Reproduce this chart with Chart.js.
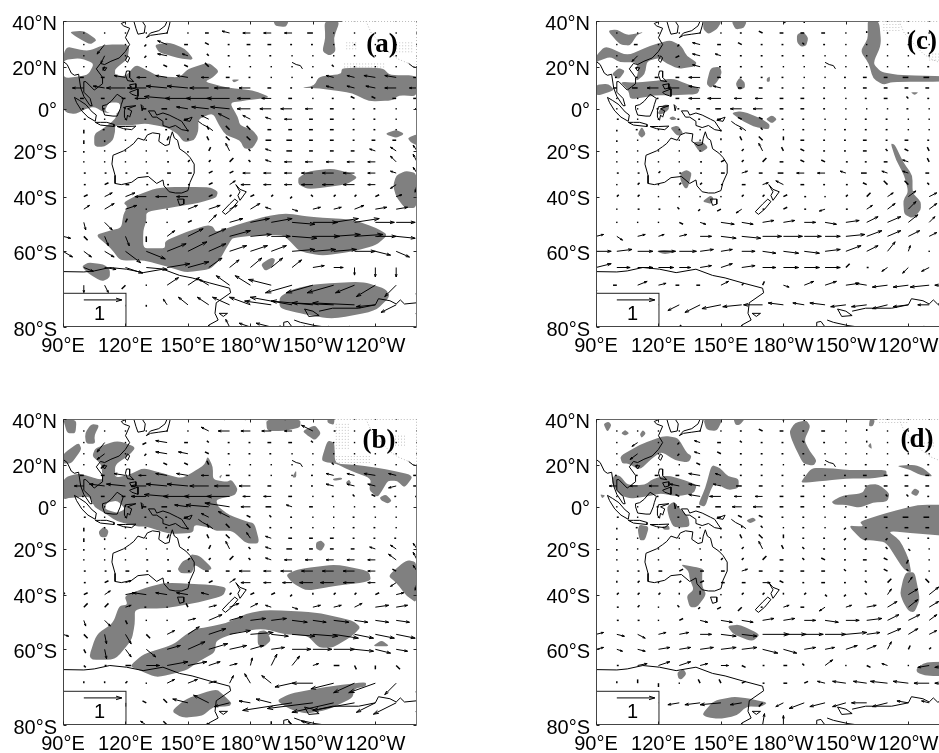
<!DOCTYPE html>
<html>
<head>
<meta charset="utf-8">
<title>Wind anomalies</title>
<script src="https://cdn.jsdelivr.net/npm/chart.js@4/dist/chart.umd.min.js"></script>
<style>
html, body { margin: 0; padding: 0; background: #fff; overflow: hidden; width: 939px; height: 753px; }
canvas { position: absolute; }
</style>
</head>
<body>
<canvas id="panelA" width="440" height="375" style="left:0px;top:0px"></canvas>
<canvas id="panelB" width="440" height="355" style="left:0px;top:398px"></canvas>
<canvas id="panelC" width="440" height="375" style="left:533px;top:0px"></canvas>
<canvas id="panelD" width="440" height="355" style="left:533px;top:398px"></canvas>
<script>
const lonTicks = [90, 120, 150, 180, 210, 240];
const lonLabels = ["90°E", "120°E", "150°E", "180°W", "150°W", "120°W"];
const latTicks = [40, 20, 0, -20, -40, -60, -80];
const latLabels = ["40°N", "20°N", "0°", "20°S", "40°S", "60°S", "80°S"];

// wind grid, vectors in tenths of the key arrow
const gridLons = [90,100,110,120,130,140,150,160,170,180,190,200,210,220,230,240,250,260];
const gridLats = [40,35,30,25,20,15,10,5,0,-5,-10,-15,-20,-25,-30,-35,-40,-45,-50,-55,-60,-65,-70,-75,-80];

const uA = [
[0,0,0,0,0,0,0,0,-1,-1,-1.5,-1.5,0,.5,0,0,0,0],
[0,0,0,0,0,0,0,-1,-2,-2,-2,-2,-1.5,0,0,0,0,0],
[0,0,-2,0,-.5,-2.5,-1,-1,-.5,-1,-1,-.5,-.5,0,0,0,0,0],
[0,0,-1,0,-.5,-2.5,-1.5,-.5,-.5,-.5,-.5,0,0,0,0,0,0,0],
[0,0,-.5,0,0,-1,-1,-1,0,0,0,0,0,-.5,0,0,0,0],
[0,-1,-1,-3,-2.5,-3,-3,-2,-1,-.5,0,0,-.5,-2,-2,-3,-3,-1],
[-3,-3,-3,-5,-5,-5.5,-5.5,-5,-4,-3,-1,-.5,-.5,-2,-2,-2.5,-3,-2],
[0,-1,-1,-1,-3,-6,-6,-6,-6,-3.5,-2.5,-1,0,-.5,-1,-1,-1,-1],
[0,-.5,-.5,-.5,-1,-1.5,-3,-4.5,-5,-3.5,-3,-3,-2,-1,-.5,-.5,0,-.5],
[0,.5,0,0,-.5,-.5,-1,-2,-3,-2,-1.5,-2,-1,-1,-.5,-.5,0,0],
[0,0,-.5,0,-.5,-.5,0,-.5,-1,-1,-1,-1,-1,-1,-.5,-.5,0,0],
[0,0,0,0,0,.5,0,-.5,-1,-1,-1.5,-1.5,-1,-1,-.5,-1,-1,0],
[0,0,0,0,0,0,0,.5,-1,-.5,-1.5,-1.5,-1,-1,-1,-1.5,-1.5,-1],
[0,0,0,0,0,.5,.5,.5,1,-.5,-1.5,-2,-2,-2,-2,-2,-1.5,-1],
[0,.5,.5,.5,.5,1,1,1,1,-2,-2,-2,-3,-3,-3,-2,-1.5,-1],
[0,.5,1,1,.5,.5,.5,1,1.5,-2.5,-2,-2,-3,-3,-3,-2,-1.5,-.5],
[0,1,2,2.5,-3,-3,-3,1,.5,1,.5,-.5,-.5,.5,.5,1,1.5,.5],
[0,1.5,2.5,3,0,0,2.5,3,2,2.5,-1.5,1.5,2,2,2.5,3,3,2],
[0,.5,2,.5,0,0,1,2,3.5,5,5.5,6,6.5,6.5,6.5,5,5,0],
[2,1,1,1,0,2,4,4.5,5.5,5.5,5,6.5,7,7,7.5,5.5,5,0],
[2.5,2,2.5,4,5,5,5,4.5,4.5,4.5,4,6,6,6,5.5,4,3.5,0],
[0,2.5,3,4.5,5.5,6,5.5,3.5,2.5,3,3,2.5,3,2.5,0,0,0,.5],
[0,0,1,-1,0,3,3,-2.5,-3.5,-4,-6,-7,-7,-7,-5,-5,-3,0],
[0,0,0,-1,0,-1,-2.5,-3,-4.5,-5.5,-7,-11,-11,-11,-11,-5,-4,0],
[0,0,0,0,0,-1,-1,0,-1,-3,-4,-4,-3,-2,-2,-1,0,0]];
const vA = [
[0,0,0,0,0,0,0,0,0,0,0,0,.5,0,0,0,0,0],
[0,0,0,0,0,0,0,0,.5,0,0,0,0,0,0,0,0,0],
[0,0,-2.5,0,-.5,1,0,.5,0,0,0,0,0,0,0,0,0,0],
[0,0,-2,0,-.5,.5,.5,.5,0,0,0,0,0,0,0,0,0,0],
[0,0,-1,0,0,.5,.5,1,0,0,0,0,0,.5,0,0,0,0],
[0,0,0,.5,0,.5,.5,0,0,0,0,0,0,.5,.5,.5,.5,0],
[0,0,.5,0,0,.5,.5,0,0,0,0,0,0,.5,.5,.5,0,0],
[0,0,0,0,0,.5,0,0,0,0,0,0,0,0,.5,.5,0,0],
[0,0,0,.5,0,0,.5,.5,.5,0,0,0,0,0,0,0,0,0],
[0,0,0,0,0,0,0,1,1.5,1,.5,0,0,0,0,0,0,0],
[0,-1,0,0,0,0,-.5,1,1,1,0,0,0,0,0,0,0,0],
[0,-1,-.5,0,0,1,.5,1,1,1,0,0,0,0,0,0,0,0],
[0,-.5,0,0,0,0,-.5,1,2,.5,.5,0,0,0,0,.5,1,1.5],
[0,0,0,0,0,0,.5,.5,1,.5,.5,0,0,0,0,0,1.5,2],
[0,0,0,0,0,0,0,.5,.5,0,0,0,0,0,0,0,.5,1.5],
[0,0,.5,0,0,0,0,.5,1,0,0,0,0,0,0,0,-1,-2],
[0,.5,1,1,0,0,0,.5,.5,.5,.5,-.5,.5,.5,.5,.5,.5,-1],
[.5,1,1.5,1,0,0,1,1,1,1.5,.5,-.5,.5,.5,1,.5,.5,1],
[-1,-2,-2,1,0,0,.5,2,1,1,1,-.5,0,1,1,0,0,0],
[-.5,-1,-2.5,-2.5,-1.5,1.5,2,2,1.5,.5,0,-.5,0,.5,.5,0,-.5,0],
[-1.5,-1.5,-1.5,-3,-2,2,2.5,2,1.5,1.5,1.5,.5,.5,.5,0,-1,-1.5,0],
[0,-1,-.5,-1.5,-.5,1,1.5,2.5,2,2.5,2.5,2,.5,0,-2,-2.5,-2.5,2],
[0,-2,-2,-1,0,2,2,1.5,2.5,2.5,1.5,-2,-2,-2,-2,-3,-3,-3],
[0,0,-2,-2.5,-.5,1.5,2,2,2,2,1,2,1,.5,.5,-.5,-2,-3],
[0,0,0,0,0,0,0,0,2,1,1,0,0,0,0,0,0,0]];

const uB = [
[0,0,0,0,0,0,0,0,-2,-2,-2,-2.5,0,0,0,0,0,0],
[0,0,0,0,0,0,0,-2,-3,-2.5,-2.5,-2,-3,.5,0,0,0,0],
[0,0,-2,0,-1,-3,-1,-.5,-.5,-.5,-1,-1,-.5,0,0,0,0,0],
[0,0,-2,0,-.5,-3,-2.5,-1,-.5,-.5,-.5,0,0,0,0,0,0,0],
[0,0,-1,0,0,-1,-1,-.5,0,0,0,0,0,-.5,0,0,0,0],
[0,-1,-1,-3,-2,-3,-3,-2,-1,-.5,0,0,-.5,-2,-2,-3,-2,-1],
[-2,-2.5,-4,-5,-4,-5.5,-5.5,-5,-4,-3,-1,-.5,-.5,-2,-2,-2,-2,-1],
[0,-.5,-1,-1,-4,-6,-6.5,-6.5,-6,-2,-2,-1,0,-.5,-.5,-1,-.5,-.5],
[0,0,0,0,-1,-1.5,-3.5,-6,-6.5,-2.5,-1.5,-1.5,-1,0,0,-.5,0,.5],
[0,.5,0,0,-.5,-.5,-1,-2,-3,-1,-.5,-.5,0,0,-.5,0,0,0],
[0,0,0,0,-.5,-.5,0,-.5,-1,-1,-.5,-.5,0,0,-.5,-.5,0,0],
[0,0,0,0,0,.5,.5,-.5,-1,-1,-1.5,-1,-1,-1,-.5,-.5,-.5,0],
[0,0,0,0,0,0,0,.5,-1,-.5,-1.5,-1.5,-1,-1,-1,-1.5,-1.5,-1],
[0,0,0,0,.5,.5,.5,.5,1,-.5,-1.5,-2,-2,-2,-2,-2,-2,-1],
[0,.5,.5,1,.5,1,.5,-1,-1,-3,-2,-3,-3,-3,-3,-2,-1,-1],
[0,.5,1,1.5,.5,.5,.5,1,1.5,-2.5,-2,-2.5,-3.5,-3.5,-3,-2,-1.5,-.5],
[.5,1,1.5,2.5,-3.5,-3,-3,-2,.5,1,1,-.5,0,.5,.5,1,2,.5],
[0,1,1,1.5,-.5,0,-.5,2,2.5,2,-1.5,1.5,2,2,2,3.5,3,2],
[0,.5,1.5,.5,0,0,2,3.5,3.5,4,4,4,3.5,4,3.5,3.5,3.5,0],
[1.5,1,.5,1.5,1,2,3,4.5,5.5,6,4.5,6,6.5,6.5,5,5,5,3],
[0,.5,.5,1.5,2.5,3.5,4.5,5,4.5,3.5,3.5,5,5,5.5,5,4,3,0],
[0,.5,.5,1.5,3.5,5.5,5,3,2,.5,1.5,2,1.5,1.5,.5,0,1,1.5],
[0,0,0,.5,0,2,2.5,2,1,-1.5,-2.5,-4.5,-5.5,-6,-5.5,-7,-3,0],
[0,0,0,0,-1,-1,-4,-4,-4,-3,-4,-13,-12,-11,-11,-5,-6,0],
[0,0,0,0,-1.5,-1,-1,-.5,2,2,0,-1,-3,0,0,0,0,0]];
const vB = [
[0,0,0,0,0,0,0,0,0,0,0,0,0,0,0,0,0,0],
[0,0,0,0,0,0,0,1,0,0,0,0,1.5,0,0,0,0,0],
[0,0,-2.5,0,-.5,.5,0,.5,0,0,0,0,.5,0,0,0,0,0],
[0,0,-1.5,0,-.5,.5,.5,.5,0,0,0,0,0,0,0,0,0,0],
[0,0,-1,0,0,.5,.5,1,0,0,0,0,0,.5,0,0,0,0],
[0,0,0,.5,0,.5,.5,0,0,0,0,0,0,.5,.5,.5,.5,0],
[0,0,.5,.5,0,.5,.5,0,0,0,0,0,0,.5,.5,.5,-.5,0],
[0,0,0,0,0,.5,0,0,0,0,0,0,0,0,.5,.5,0,0],
[0,0,0,.5,0,0,.5,.5,1,0,0,.5,0,0,0,0,0,0],
[0,0,0,0,0,0,0,1,1.5,.5,.5,0,0,0,0,0,0,0],
[0,-1,0,0,0,0,-.5,1,1,1,0,0,0,0,0,0,0,0],
[0,-1,-.5,0,0,1,.5,1,1,1.5,.5,0,0,0,0,0,0,0],
[0,-.5,0,0,0,0,-.5,1,2,.5,.5,0,0,0,0,.5,1,1.5],
[0,0,0,0,0,0,.5,.5,1,.5,.5,0,0,0,0,0,1.5,2],
[0,0,0,0,0,0,0,0,0,0,0,0,0,0,0,0,.5,1.5],
[0,0,.5,.5,0,0,0,.5,1,0,0,0,0,0,0,0,-1,-2],
[.5,.5,1,.5,.5,.5,.5,.5,.5,.5,.5,-.5,.5,.5,.5,.5,.5,-1],
[0,1,1,.5,0,0,1,.5,1,1,.5,-.5,.5,.5,1,.5,.5,1],
[-1,-1.5,-1.5,-1,0,0,.5,1.5,1,.5,.5,-.5,-.5,-.5,-.5,-.5,-.5,0],
[-.5,-1,-2.5,-2.5,-1,1,2,1.5,1,.5,-.5,-.5,-.5,-1,-1,-1,-1,.5],
[-1,-1,-2.5,-2,-2,1,2,1.5,1,1,.5,0,0,0,-.5,-1,-.5,.5],
[0,-.5,0,0,0,1,1,1,.5,2,3,2.5,.5,0,-1,-1,-1,2],
[0,.5,.5,.5,0,1,1,.5,2,2.5,2,-1,0,-1.5,-2.5,-2.5,-3,-3],
[0,0,-1,-1,.5,1,1,2,-1,.5,1,-2,-1.5,-2.5,-2,-2.5,-3,-3],
[0,0,0,0,1,1,0,.5,-3,-4,1,1,1,0,0,0,0,0]];

const uC = [
[0,0,0,0,0,0,0,0,0,.5,0,-.5,0,0,0,0,0,0],
[0,0,0,0,0,0,0,-.5,-1,-1,-1,-1,0,0,0,0,0,0],
[0,0,-1,0,-.5,-2,-1,-1,-.5,-.5,-.5,-.5,0,0,0,0,0,0],
[0,0,-1.5,0,-1,-2,-1.5,-.5,-.5,-.5,-.5,0,0,0,0,0,0,0],
[0,0,-.5,0,0,-2,-.5,-.5,-.5,0,0,0,0,0,0,0,-.5,-.5],
[0,-.5,-.5,-1,-1,-3,-1,-.5,-.5,-.5,0,0,-.5,-1,-1,-1.5,-1.5,-1],
[-1,-1,-1.5,-3,-3,-3,-2,-1,-1,-.5,-.5,-.5,-.5,-1,-1,-1,-1,-1],
[0,0,0,-.5,-1,-3,-3.5,-2,-2,-1,-1,-.5,0,-.5,-1,-.5,-.5,-.5],
[0,0,0,-.5,-.5,-1,-1.5,-3,-2.5,-1,-1,-.5,0,0,0,-.5,0,0],
[0,.5,0,0,-.5,-.5,-1,-1,-1,-.5,-.5,0,0,-.5,-.5,0,0,0],
[0,0,-.5,0,0,0,0,-.5,-.5,0,-.5,0,-.5,-.5,-.5,0,0,0],
[0,0,0,0,0,0,0,-.5,-1,0,-1,-.5,-.5,-1,-.5,-1,-.5,0],
[0,0,0,0,0,0,0,.5,-1,-.5,-1,-.5,-.5,-1,-.5,-1,-.5,-.5],
[0,0,0,0,0,.5,1,.5,1,-1,-1,-1,.5,-.5,-1,-1.5,-.5,.5],
[0,.5,.5,.5,.5,.5,1,1.5,-1,-1.5,-2,-2,-1.5,-1.5,-1.5,-1.5,-1,-1],
[0,0,.5,0,.5,.5,.5,1,1.5,-2,-1,-.5,.5,-1,-1,-1,-.5,-.5],
[0,.5,.5,0,0,0,0,.5,.5,1,.5,0,.5,1,1.5,2,2,2],
[0,0,.5,.5,-.5,-.5,-1,-1.5,.5,1,.5,-1.5,.5,1.5,2,2,2,2],
[0,0,0,0,1,1.5,3.5,3,3,3,3,3,3.5,3,3.5,2.5,1.5,1],
[2,1.5,2,1.5,2,3,4,5,5,5,4.5,4,5,4,3.5,3,2,2],
[4,4,4,4.5,4.5,3.5,3,3.5,3.5,4,4,4,4,3,2,.5,0,0],
[4,3.5,4,4,3,3,3,3.5,3.5,4,4,4,1,.5,-1.5,-1.5,-2,-2],
[0,-1,2.5,2,-1,-1,2,.5,.5,1.5,2.5,3,3.5,-3,-4,-4,-5,-4],
[0,0,-2.5,-2,-3,-4,-5,-5,-5,-4,-3,-4,-4,-4,-4,-4,-3,-3],
[0,0,0,0,.5,.5,.5,.5,-.5,.5,.5,.5,.5,.5,-1,-1,-2,-2]];
const vC = [
[0,0,0,0,0,0,0,0,0,-.5,-.5,0,.5,0,0,0,0,0],
[0,0,0,0,0,0,0,0,.5,0,0,0,0,.5,0,0,0,0],
[0,0,0,0,-.5,.5,0,.5,0,0,.5,0,0,0,0,0,0,0],
[0,0,-1.5,0,-.5,.5,.5,0,0,0,0,0,0,0,0,0,0,0],
[0,0,-.5,0,0,.5,0,0,0,0,0,0,0,0,0,0,0,0],
[0,0,0,0,0,0,0,0,0,0,0,0,0,0,0,0,0,0],
[0,0,0,0,0,.5,.5,0,0,0,0,0,0,0,0,0,0,0],
[0,0,0,0,0,0,0,0,0,0,0,0,0,0,0,.5,0,0],
[0,0,0,0,0,0,0,0,0,0,0,0,0,0,0,0,0,0],
[0,0,0,0,0,0,0,.5,.5,0,0,0,0,0,0,0,0,0],
[0,-.5,0,0,0,0,-.5,.5,.5,0,0,0,0,0,0,0,0,0],
[0,-.5,0,0,0,0,.5,1,1,1,0,0,0,0,0,0,0,-.5],
[0,-.5,0,0,0,0,-.5,.5,2,1,.5,0,0,0,.5,.5,1,0],
[0,0,0,0,0,0,.5,.5,1,0,.5,.5,0,0,0,.5,1,1],
[0,0,0,.5,0,0,0,.5,0,0,0,0,.5,0,.5,.5,0,.5],
[0,0,.5,0,.5,.5,0,0,.5,1,0,0,0,.5,1,1,.5,0],
[0,.5,.5,0,0,0,0,.5,.5,.5,0,0,.5,1,1,1.5,1,1],
[0,0,0,0,.5,-.5,-.5,-1,0,.5,0,-.5,0,1,1.5,2,1.5,1.5],
[0,0,0,0,-.5,-.5,-.5,-.5,.5,.5,0,-.5,.5,1.5,1.5,2,1.5,1],
[.5,-1,.5,.5,.5,0,-.5,-.5,0,0,0,0,.5,1.5,1.5,1.5,1,.5],
[0,.5,0,0,0,.5,.5,0,-.5,-.5,-.5,.5,1.5,1.5,2.5,1.5,0,0],
[1,0,0,0,0,.5,1,.5,0,0,0,0,1,0,-1,-1.5,-1,-1],
[-2,0,1,.5,0,0,1,.5,1,-.5,1,1,.5,.5,-.5,-.5,-.5,0],
[0,0,-.5,-1,-1.5,-2,-1,-.5,0,.5,.5,.5,-.5,-.5,-1,-.5,0,0],
[0,0,0,0,.5,-.5,0,-.5,-.5,-.5,0,-.5,0,-.5,-.5,-.5,0,0]];

const uD = [
[0,0,0,0,0,0,0,0,0,0,0,-.5,0,0,0,0,0,0],
[0,0,0,0,0,0,0,-.5,-1,-1,-.5,-1,0,0,0,0,0,0],
[0,0,-1.5,0,-.5,-1.5,-1,-.5,-.5,-.5,-.5,-.5,0,0,0,0,0,0],
[0,0,-2,0,-.5,-1.5,-1,-.5,-.5,-.5,-.5,0,0,0,0,0,0,0],
[0,0,-.5,0,0,-1,-.5,-.5,-.5,0,0,0,0,-.5,0,0,-.5,-.5],
[0,-.5,-.5,-1,-1,-3,-1.5,-.5,-.5,-.5,0,0,-.5,-1,-1,-1,-1,-1],
[-.5,-2,-2,-2.5,-2.5,-3,-2,-1.5,-1,-.5,-.5,-.5,-.5,-.5,-1,-1,-1,-1],
[0,0,0,-.5,-1,-3,-3,-2,-2,-1,-1,-.5,0,-.5,-.5,-.5,-.5,-.5],
[0,0,0,-.5,-.5,-1,-1.5,-2.5,-2.5,-1,-1,-.5,0,0,0,0,0,0],
[0,.5,0,0,-.5,-.5,-1,-1,-1,-.5,-.5,0,-.5,-.5,-1,-1.5,-1.5,-1],
[0,0,-.5,0,0,0,0,0,-.5,0,-.5,0,-.5,-.5,-.5,-1,-1,-1],
[0,0,0,0,0,0,0,-.5,-1,0,-.5,-.5,-.5,-.5,-.5,0,-.5,0],
[0,0,0,0,0,0,0,.5,-1,-.5,-.5,-.5,-.5,-.5,-.5,.5,0,0],
[0,0,0,0,.5,.5,.5,.5,1,-1,-.5,-1,-.5,-1,-1,-.5,0,-.5],
[0,.5,.5,1,1,1,1,1.5,-1,-1,-1,-1,-.5,-.5,-1,-.5,0,0],
[0,0,.5,0,.5,1,1,1,2,-1,-.5,-1,-.5,-.5,1,1,-1,1],
[0,.5,.5,.5,0,0,0,.5,.5,0,.5,.5,-.5,-.5,1,2.5,2.5,2],
[0,.5,.5,0,-.5,-.5,-1,-1,-.5,1.5,-1,-1.5,1.5,2.5,2.5,2.5,2.5,2],
[0,.5,.5,0,1,2,3,3,3,3,3,3.5,3.5,4,3,3,2,1],
[2,2,2,2,2.5,3,4,4,7,6,5,5.5,5.5,3.5,3.5,2.5,2,2],
[2,1.5,2,3,3,3.5,4,4,4,3.5,3,2.5,3,2.5,1,.5,.5,0],
[0,.5,2.5,3,3,2,2,1,.5,1,-.5,2,0,1,-1.5,0,-3,-4],
[0,0,0,0,0,-.5,-.5,1,.5,1,1,-2,-3.5,-3.5,-4.5,-4,-4,-4],
[0,0,-1,-1.5,-3,-4,-5.5,-3,-1,-2,-4,-4,-3.5,-4,-4,-3,-2,-2],
[0,0,0,0,0,0,.5,.5,.5,0,0,0,0,0,0,0,0,0]];
const vD = [
[0,0,0,0,0,0,0,0,0,-.5,-.5,0,.5,0,0,0,0,0],
[0,0,0,0,0,0,0,0,.5,0,0,0,0,.5,0,0,0,0],
[0,0,-1,0,-.5,.5,0,.5,0,0,.5,0,0,.5,0,0,0,0],
[0,0,-1.5,0,-.5,.5,.5,0,0,0,0,0,0,0,0,0,0,0],
[0,0,-.5,0,0,.5,0,0,0,0,0,0,0,0,0,0,0,0],
[0,0,0,0,0,.5,.5,0,0,0,0,0,0,0,0,0,0,0],
[0,0,0,0,.5,.5,.5,0,0,0,0,0,0,0,0,0,0,0],
[0,0,0,0,.5,.5,0,0,0,0,0,0,0,0,.5,.5,0,0],
[0,0,0,0,0,0,0,0,0,0,0,0,0,0,0,0,0,0],
[0,0,0,0,0,0,0,.5,.5,0,0,0,0,0,0,0,0,0],
[0,-.5,0,0,0,0,-.5,.5,.5,0,0,0,-.5,0,0,0,0,0],
[0,-.5,0,0,0,0,.5,1,1,1,0,0,-.5,-.5,-.5,0,0,0],
[0,-.5,0,0,0,0,-.5,.5,2,1,.5,0,0,0,.5,-.5,0,0],
[0,0,0,0,0,0,.5,.5,1,0,.5,.5,0,0,.5,-1,0,.5],
[0,0,0,0,.5,0,0,.5,0,0,0,0,.5,0,.5,.5,0,0],
[0,.5,.5,0,.5,.5,0,0,0,.5,0,0,0,.5,1,1.5,1,0],
[0,.5,.5,.5,.5,1,0,.5,.5,.5,.5,-.5,-.5,.5,1.5,1.5,2,1],
[0,0,.5,0,.5,-.5,-.5,-1,0,.5,0,-1,.5,.5,1.5,2,1.5,1.5],
[0,0,0,0,.5,-.5,-.5,-.5,.5,.5,0,-.5,0,.5,1.5,1.5,1.5,1],
[.5,-.5,-1,.5,.5,0,-.5,-.5,0,0,0,0,.5,.5,1.5,1.5,1,.5],
[.5,-.5,-.5,.5,.5,.5,.5,.5,-1,-1,.5,.5,1,1,2,1,.5,0],
[0,0,.5,1,1,.5,0,-.5,0,0,.5,1.5,0,-.5,.5,0,-.5,-.5],
[0,.5,1,-1,0,1,1,.5,0,0,.5,.5,.5,.5,.5,.5,0,0],
[0,0,-1,-1,-.5,-.5,-.5,-.5,-1,-1,-1.5,-1,-1,0,-1,.5,.5,0],
[0,0,0,0,0,0,-.5,-.5,3,2.5,0,0,0,0,0,0,0,0]];

// coastlines as lon/lat pairs
const coastAsia = [[90,22.5],[92,21],[94,17],[95.5,16],[97.5,16.5],[98.5,10],[100,6],[103,1.5],[104,1.5],[103,5],[100,8],[100,13],[101,13],[103,11],[105,9],[107,10.5],[109,12],[109,15],[106,19],[108,21.5],[110,21],[113,22.5],[117,24],[120,27],[122,30],[120,33],[122,37],[119,38],[118,39],[121,40]];
const coastKorea = [[124,40],[125,37],[126,34.5],[129,35],[129.5,38],[128,40]];
const coastJapan = [[130,33],[132,34],[136,34.5],[140,35],[141,38],[141.5,40],[140,40],[139,38],[136,36],[132,35],[130,33]];
const coastTaiwan = [[121,25],[122,24],[121,22],[120,23],[121,25]];
const coastHainan = [[109,19.5],[111,19.5],[110,18],[109,19.5]];
const coastLuzon = [[120.5,18],[122,18],[122,15],[124,13],[121,13.5],[120,16],[120.5,18]];
const coastVisayas = [[122,11.5],[125,12],[125,10],[123,9.5],[122,11.5]];
const coastMindanao = [[122,8],[126,9.5],[126,6],[123,7],[122,8]];
const coastBorneo = [[109,1.5],[111,2],[113,3.5],[116,7],[119,5],[118,2],[117.5,0],[116,-3.5],[114,-3.5],[110,-3],[109,0],[109,1.5]];
const coastSumatra = [[95.5,5.5],[98,4],[101,2],[104,-1.5],[106,-3],[105.5,-6],[102,-4],[99,-1],[96.5,3],[95.5,5.5]];
const coastJava = [[105.5,-6.5],[108,-6.5],[111,-6.5],[114.5,-7.5],[114.5,-8.5],[108,-7.8],[105.5,-6.5]];
const coastSunda = [[116,-8.5],[120,-8.5],[125,-8.3],[123,-10],[119,-9.5],[116,-8.5]];
const coastSulawesi = [[120,1],[125,1.5],[121,0],[123,-1],[122,-4],[121,-3],[120.5,-5.5],[119.5,-4],[119.5,-1],[120,1]];
const coastHalmahera = [[127.5,2],[128.5,1],[128,-1],[127.5,2]];
const coastGuinea = [[131,-1],[134,-1],[135,-3],[138,-2],[141,-3],[145,-5],[147,-6],[150,-10.5],[147,-10],[144,-8],[141,-9],[138,-8],[138,-6],[135,-4],[133,-4],[131,-1]];
const coastBritain = [[148,-5.5],[152,-4],[151,-6],[148,-5.5]];
const coastSolomon = [[155,-6],[157,-7.5],[160,-9],[162,-10.5]];
const coastAustralia = [[114,-22],[113.5,-26],[115,-31],[115,-34.5],[118,-35],[123,-34],[126,-32],[131,-31.5],[135,-34.5],[138,-33],[138.5,-35.5],[141,-38],[144,-38.5],[147,-38.5],[150,-37.5],[151,-34],[153,-30],[153,-26],[151,-23],[149,-21],[146,-19],[145,-15],[143.5,-14],[142.5,-11],[141.5,-14],[141,-17],[139,-17.5],[136,-15.5],[136.5,-12],[133,-11.5],[130.5,-12.5],[129,-15],[126,-14],[124,-16.5],[122,-18],[119,-20],[114,-22]];
const coastTasmania = [[145,-41],[148,-41],[148,-43],[146,-43.5],[145,-41]];
const coastNzNorth = [[173,-35],[175,-37],[178,-38],[175,-41.5],[174,-39.5],[175,-38],[173,-35]];
const coastNzSouth = [[172.5,-41],[174,-42],[171,-45],[168,-47],[166.5,-46],[170,-43],[172.5,-41]];
const coastHawaii = [[200,22],[202,21],[204,20.5],[205,19]];
const coastMexico = [[256,21.5],[258,20],[260,19.5]];
const coastAntEast = [[90,-66.2],[100,-66.3],[105,-66],[112.5,-65],[120.5,-65.5],[128.5,-66.5],[138,-65.5],[146,-67.3],[152,-68],[160.5,-69.4],[170,-70.8],[170.5,-72],[163.6,-74.5],[163,-77],[164.5,-78.5],[160,-79.6],[160,-80]];
const coastRossIsland = [[165,-77],[169,-77],[167,-77.7],[165,-77]];
const coastRoosevelt = [[196,-80],[196,-79],[198,-78.8],[200,-80]];
const coastShelf = [[201,-78.5],[204,-79],[211,-79.7],[216,-80]];
const coastByrdLoop = [[206,-76],[210,-76.5],[213,-77.5],[208,-77.7],[206,-76]];
const coastByrd = [[213,-76.5],[219.5,-75.8],[232,-75.8],[240,-75],[241.5,-73.5],[247,-74],[250,-74.8],[252,-73.8],[254,-74.8],[260,-74.5]];
const coasts = [coastAsia,coastKorea,coastJapan,coastTaiwan,coastHainan,coastLuzon,coastVisayas,coastMindanao,coastBorneo,coastSumatra,coastJava,coastSunda,coastSulawesi,coastHalmahera,coastGuinea,coastBritain,coastSolomon,coastAustralia,coastTasmania,coastNzNorth,coastNzSouth,coastHawaii,coastMexico,coastAntEast,coastRossIsland,coastRoosevelt,coastShelf,coastByrdLoop,coastByrd];
const coastAmerica = [[235.5,40],[238,35],[243,30],[247,26],[251,23.5],[256,21.5]];

// shaded (significant) areas, lon/lat outlines
const shadeA = [
[[90,29.5],[102,27],[110,30],[122,30],[121,23.5],[115,19],[115,16],[120,15.5],[125,21],[130,18.5],[136,15.5],[146,15],[150,19],[160,22],[165,18],[162,15],[158,13],[169,10],[181,9],[190,5.5],[178,4],[170,3],[174,-4],[175,-8],[181,-10],[184,-14],[181,-19],[177,-19],[175,-15],[168,-12.5],[165,-8],[162,-2],[155,-5],[155,-11],[153,-15],[148,-16],[145,-12],[140,-9],[130,-7],[122,-8],[115,-8],[115,-11],[114,-15],[110,-18],[105,-18],[105,-12],[110,-9],[115,-5],[116,-2],[110,-2],[105,1],[101,0],[96,-2.5],[92,-2],[90,0]],
[[93,35.5],[100,36],[106.5,32],[103,30],[97,33]],
[[134,30],[141,31],[149,28],[153,23],[145,24],[136,26.5]],
[[191,40],[198.5,40],[197,37.5],[192,38]],
[[215.5,40],[223,40],[220,33],[221,27],[218,25],[214.5,27],[216,33]],
[[171,14],[175,14],[172,12.5]],
[[204.5,10],[210.5,11],[213,15.5],[223.5,16.5],[224,19.5],[243.5,19.5],[247,16],[260,16],[260,6],[251.5,6.5],[248,4],[237,3.5],[229,7.5],[219.5,9],[210.5,10]],
[[244.5,-12],[250,-10],[254,-12],[250,-14]],
[[255.5,-14],[260,-12],[260,-17.5],[257,-16]],
[[203,-32],[208.5,-29],[219.5,-28],[228,-30],[231.5,-32],[226,-35],[208,-37],[203,-35]],
[[250,-31],[254.5,-29],[260,-30],[260,-44.5],[254,-44.5],[250,-40],[248.5,-35.5]],
[[119,-42.5],[125,-39.5],[136.5,-36],[160.5,-36],[164.5,-38],[163.5,-40.5],[155.5,-42.5],[144.5,-44],[130,-46],[130,-49.5],[128.5,-53],[128.5,-59],[135,-59],[139,-59],[139,-56.5],[149,-53.5],[159,-51],[162,-51.5],[163.5,-53.5],[173,-51],[186,-48],[197,-46.5],[208.5,-48],[229.5,-49],[240.5,-52],[246,-54.5],[240.5,-58],[229.5,-60],[214.5,-61.5],[203.5,-60],[199.5,-57],[195.5,-54.5],[184.5,-54.5],[171.5,-55.5],[170,-57],[165,-63],[160.5,-65.5],[149,-66.5],[141.5,-65],[128.5,-62.7],[117.5,-63],[113,-59],[105.5,-54.5],[112.5,-53],[118,-52],[119,-47],[121,-44]],
[[185,-64],[190,-62],[192,-62.5],[190.5,-65],[187,-66]],
[[99,-64.7],[102,-63.5],[109.5,-64],[112.5,-65.5],[112.5,-68],[108.5,-69],[102,-66.7]],
[[194,-73],[200.5,-71],[211.5,-69.7],[234,-69],[245,-71],[247,-73],[240,-76.5],[219.5,-78.3],[203.5,-77],[194,-75.8]]];
const holesA = [
[[90,23],[98,24],[105,21.5],[102,16],[90,14.5]],
[[110,-1],[112,3],[117,3],[118,0],[115,-3]]];

const shadeB = [
[[90,40],[96.5,39.5],[96,34],[92,34]],
[[100.5,34],[103.5,38],[107.5,37.5],[105,33],[105.5,29.5],[101,29.5]],
[[90,25],[97.5,30],[99,27],[94,20.5],[90,20.5]],
[[90,12.5],[92,14.5],[98,16],[106,13.5],[109,13],[108.5,20],[104,24],[105.5,27.5],[116,31],[125,28],[122,24.5],[115,20],[115,14],[121,15],[128.5,18.5],[138,16],[147,13.5],[154,17.5],[158,20],[159.5,24],[162,19],[162,13],[168.5,12],[171,13],[174,8.5],[172.5,5.5],[163.5,3.5],[164.5,0],[170,-4],[178,-7],[182,-8],[184.5,-17.5],[178,-17.5],[171.5,-11.5],[163.5,-11.5],[160.5,-10],[153,-8.5],[152.5,-12.5],[141,-13],[130,-9.5],[126,-9.5],[116,-7],[110,-3],[105,0],[103,5],[94,4.5],[90,3.5]],
[[107,-12],[109.5,-9.5],[112,-11.5],[111,-14.5],[108,-14.5]],
[[145,-29],[147.5,-25.5],[151.5,-24],[151.5,-22.5],[155.5,-23],[162,-29],[158,-30],[153,-27],[152,-31],[146.5,-31]],
[[187.5,40],[204,40],[204,36.5],[196,35],[188,35]],
[[205,35],[211,37.5],[214,34],[211,31],[207.5,33]],
[[217,40],[220.5,40],[220,37.5],[217,38.5]],
[[214,22],[217,31],[220.5,30],[220.5,20.5],[230.5,20],[245,18],[258.5,15],[254,9],[250.5,12.5],[246,12.5],[244,9],[241,4.5],[237,8],[238,13.5],[227.5,17.5],[221,20.5],[217,21]],
[[242,4.5],[245,6],[248,3],[246,1.5],[243,3]],
[[200,14],[202,17.5],[202,14]],
[[219.5,13.5],[224,14],[224,13],[220,12.5]],
[[226,12],[227.5,13],[228.5,11],[226,11]],
[[165,14.5],[166.5,15.5],[165.5,13.5]],
[[211.5,-17],[214,-16],[216,-18],[214,-21],[211.5,-20]],
[[197,-31.5],[203.5,-29],[221,-27],[237,-30],[238,-34.5],[219.5,-36.5],[207,-38.5],[200,-35]],
[[246,-32],[255,-25],[260,-26],[260,-43.5],[255,-40.5],[250,-35]],
[[119.5,-40.5],[130,-37],[139.5,-35],[162,-36],[168.5,-37],[167,-40.5],[155.5,-43],[139.5,-45.5],[124.5,-45.5],[124.5,-51.3],[123,-57],[115,-63.3],[102,-63.3],[106,-55],[114,-51],[117,-44.5],[121,-44]],
[[122,-65.2],[128.5,-61.5],[143,-58.5],[149,-55],[154,-53],[159,-52.5],[168.5,-51],[178,-47.5],[187.5,-46],[211.5,-47],[229,-50],[233,-52.5],[229,-55.5],[219.5,-59.5],[213,-59.5],[207.5,-55.5],[197,-55],[186,-53],[175,-54],[163.5,-57],[163,-61],[155.5,-63.7],[149,-66.5],[135,-68.5],[127,-66.5]],
[[183.5,-54],[187.5,-53.5],[190,-57],[186,-59.5],[183.5,-58.5]],
[[238.5,-59],[243,-57],[247,-59]],
[[142,-77],[149,-74],[163.5,-71.5],[167,-73],[171,-75],[170,-75.8],[162,-76],[157,-78],[147.5,-78.5]],
[[192.5,-74.5],[199,-72.7],[213,-71.3],[224,-70.4],[235.5,-69.7],[235.5,-70.8],[230,-71.5],[229,-73.8],[218,-76.5],[207,-77.6],[199,-76.5]]];
const holesB = [
[[110,-1],[111,2],[116,3],[120,-1],[116,-3]],
[[220.5,40],[260,40],[260,21],[220.5,21]]];

const shadeC = [
[[95.5,36],[100,36.5],[105,34],[113,35.5],[109.5,34],[106.5,29.5],[101.5,30]],
[[90,25],[94.5,29.5],[105,25],[116,29.5],[125.5,32],[131,29.5],[133.5,25],[138.5,22],[137,20],[129.5,19],[124,21.5],[120,24],[114.5,22.5],[113.5,16.5],[109,13],[110.5,19],[109,22],[101.5,22],[97,24.5],[92,23],[90,22]],
[[97.5,16.5],[101,19.5],[104,18],[101,14]],
[[90,11.5],[96,12],[99,9],[90,6]],
[[101.5,13],[109.5,12.5],[119,13.5],[127,14.5],[133.5,12],[140,9.5],[138.5,7],[125.5,6.5],[119,6.5],[116,6],[106.5,4.5],[105.5,9]],
[[143,12],[145,19.5],[149.5,20],[150.5,17],[148,12.5],[145,10]],
[[157,12],[159,15],[161.5,12.5],[161.5,10],[158.5,9]],
[[172,14.5],[173.5,15.5],[173.5,13],[172,13]],
[[141.5,40],[150.5,40],[148,36.5],[144,34.5],[141.5,36.5]],
[[155,40],[162.5,40],[161,37],[157,36.5]],
[[186.5,34.5],[189.5,35.5],[192,33],[191,29.5],[188.5,29],[186.5,31]],
[[220.5,40],[226,40],[227,30],[223,21.5],[227,17.5],[236,16],[260,15.5],[260,13],[233,13],[228,11.5],[223,14.5],[221,21.5],[217,27],[220.5,32.5],[220.5,37]],
[[241,8],[245,8],[243,6.5]],
[[155,-2],[160,-1],[169,-4.5],[173.5,-7.5],[173,-10],[165.5,-8.5],[159,-5]],
[[171.5,-5],[174.5,-3],[177,-5],[174.5,-7]],
[[119.5,-2],[122.5,2],[125,2],[125,-.5],[121,-3]],
[[125,-4.5],[127,-3.5],[129,-5],[126.5,-5.5]],
[[110,-12],[112,-8.5],[114,-12],[112,-14]],
[[125.5,-9],[129.5,-8],[132,-12],[129,-13]],
[[136.5,-16],[141,-15.5],[144,-18.5],[140,-21]],
[[130.5,-30],[133.5,-28.5],[136,-30],[135,-33.5],[134,-36.5],[132.5,-36.5],[130.5,-33]],
[[141,-42],[145,-39.5],[146.5,-40.5],[145.5,-43]],
[[231.5,-16.5],[233.5,-17],[237.5,-25],[242,-31],[242,-38.5],[246,-42],[246,-45.5],[242,-48.5],[238,-47],[237.5,-41.5],[240,-38],[238,-31],[234,-24]],
[[119,-60],[122.5,-59.5],[129,-60],[123,-61]]];
const holesC = [];

const shadeD = [
[[93.5,38],[96,39],[97.5,37.5],[95.5,34.5]],
[[102,34],[104,35.5],[106,34],[104,33]],
[[111,33.5],[112.5,35.5],[114,34],[112,32]],
[[101.5,24],[111,29],[122.5,33],[129.5,32],[133.5,25.5],[136,24],[134.5,21],[128,22],[121.5,26],[117,23],[111,17.5],[105.5,20.5],[102.5,20.5]],
[[98.5,15],[101.5,15],[105,10.5],[113.5,10.5],[117.5,13.5],[124,15],[130.5,13.5],[138.5,10.5],[137,6.5],[129,5],[121,6.5],[115,5],[106.5,4],[101.5,5.5],[97.5,11.5]],
[[139,1],[142.5,9],[145.5,20],[149.5,18.5],[153.5,14.5],[158.5,13.5],[158.5,9],[153.5,8],[147,11.5],[145,8],[142.5,0]],
[[141.5,40],[151,40],[148,35],[143,35.5]],
[[156,40],[161.5,40],[159,37.5],[157,37.5]],
[[183,35],[185.5,38.5],[191,39.5],[193,37],[190,31],[192.5,26.5],[196,22],[194.5,19.5],[189.5,20.5],[185.5,28],[183.5,32.5]],
[[221.5,40],[224,39.5],[223,37],[221,37]],
[[220.5,28.5],[222,30],[222.5,27]],
[[188.5,12],[193.5,18.5],[200.5,18.5],[212,17.5],[221.5,17.5],[229.5,17.5],[229.5,14.5],[221.5,13.5],[210,13.5],[200.5,12.5],[189.5,11.5]],
[[234,19.5],[243,20],[247,18.5],[252,14.5],[246,15],[241,17.5]],
[[241,6.5],[243,9],[245.5,7.5],[244,5]],
[[203,2.5],[208.5,5.5],[218,6.5],[220,10.5],[225.5,11],[231,6.5],[230,2.5],[223,2],[216.5,-.5],[210,1],[204.5,1]],
[[216.5,-7],[229.5,-3],[244.5,1],[260,1],[260,-14],[245.5,-13],[230,-11.5],[236,-16],[240,-24],[241.5,-31],[237.5,-29],[229.5,-17],[223,-16],[218,-16],[211,-9],[218.5,-9.5]],
[[236,-39.5],[237.5,-33.5],[239,-30.5],[243,-30.5],[244.5,-37],[245.5,-42],[243,-47],[240,-46.5],[237.5,-43]],
[[162,-6.5],[165.5,-5],[167,-6.5],[164,-8]],
[[92,6],[94.5,5.5],[93,4]],
[[124,0],[127,2.5],[129.5,0],[134.5,-5],[135,-9.5],[130.5,-10],[127,-9.5],[125,-5]],
[[110,-11],[111,-8.5],[115.5,-9.5],[113.5,-16],[111,-16]],
[[121.5,-9.5],[125,-9],[125.5,-11],[122.5,-11]],
[[130.5,-27],[137,-28],[141.5,-29],[141,-30.5],[141,-36.5],[143,-40],[138.5,-45],[135,-45],[133.5,-40.5],[137,-38],[135,-33.5],[134.5,-30]],
[[153,-52],[159,-51.5],[169,-55],[165,-57.5],[156,-55]],
[[129,-67],[132,-66],[133.5,-67.5],[131,-69],[129.5,-68.7]],
[[141,-77.6],[146.5,-74.5],[156,-73.5],[164,-74],[172.5,-75],[169,-76],[162.5,-75.8],[157.5,-78],[149.5,-78.7],[143,-78.3]],
[[244,-65.7],[248.5,-64],[260,-63.8],[260,-68],[248.5,-68],[244,-67]]];
const holesD = [];

// light dotted land mask corners
const hatchA = [[225,244,19.5,21.5],[226,231,28,31],[250,258,27,31]];
const hatchB = [[221,227,27,38],[221,238,21,24],[248,255,28,33]];
const hatchC = [[228,236,36,40],[250,258,22,26],[229,240,39,40]];
const hatchD = [[226,240,38.5,40],[246,252,28,30]];

const keyBoxLons = [90, 120];
const keyBoxLats = [-72, -80];
const keyTail = [100, -73.8];
const keyValue = [10, 0];

const panels = [
  {id: "panelA", name: "(a)", u: uA, v: vA, shade: shadeA, holes: holesA, hatch: hatchA, tag: [382, 45], cleanTo: 224},
  {id: "panelB", name: "(b)", u: uB, v: vB, shade: shadeB, holes: holesB, hatch: hatchB, tag: [379, 43], cleanTo: 220.5},
  {id: "panelC", name: "(c)", u: uC, v: vC, shade: shadeC, holes: holesC, hatch: hatchC, tag: [389, 42], cleanTo: 226},
  {id: "panelD", name: "(d)", u: uD, v: vD, shade: shadeD, holes: holesD, hatch: hatchD, tag: [384, 42], cleanTo: 225}
];

// Miller cylindrical, the map's y axis is linear in this
function miller(lat) {
  return 1.25 * Math.log(Math.tan(Math.PI / 4 + 0.4 * lat * Math.PI / 180));
}
function toPoints(list) {
  return list.map(p => ({x: p[0], y: miller(p[1])}));
}
function arrow(ctx, x, y, u, v) {
  const dx = u * 3.8, dy = -v * 3.8;
  const len = Math.hypot(dx, dy);
  if (len === 0) {
    ctx.fillRect(x - 0.7, y - 0.7, 1.4, 1.4);
    return;
  }
  const a = Math.atan2(dy, dx);
  const tx = x + dx, ty = y + dy;
  ctx.beginPath();
  ctx.moveTo(x, y);
  ctx.lineTo(tx, ty);
  if (len >= 6) {
    const h = Math.min(6, 1.5 + len * 0.16);
    ctx.moveTo(tx - h * Math.cos(a - 0.3), ty - h * Math.sin(a - 0.3));
    ctx.lineTo(tx, ty);
    ctx.lineTo(tx - h * Math.cos(a + 0.3), ty - h * Math.sin(a + 0.3));
  } else {
    ctx.lineWidth = 1.5;
  }
  ctx.stroke();
  ctx.lineWidth = 1;
}
// outline with only the corners rounded off
function blobPath(ctx, pts) {
  const n = pts.length, f = 0.3;
  ctx.beginPath();
  pts.forEach((p, k) => {
    const a = pts[(k + n - 1) % n], b = pts[(k + 1) % n];
    const sx = p.x + (a.x - p.x) * f, sy = p.y + (a.y - p.y) * f;
    if (k === 0) ctx.moveTo(sx, sy); else ctx.lineTo(sx, sy);
    ctx.quadraticCurveTo(p.x, p.y, p.x + (b.x - p.x) * f, p.y + (b.y - p.y) * f);
  });
  ctx.closePath();
}

const mapPlugin = {
  id: "mapMarks",
  beforeDatasetsDraw(chart) {
    const ctx = chart.ctx, area = chart.chartArea;
    ctx.save();
    ctx.beginPath();
    ctx.rect(area.left, area.top, area.width, area.height);
    ctx.clip();
    chart.data.datasets.forEach((ds, i) => {
      if (!ds.polyFill) return;
      const pts = chart.getDatasetMeta(i).data;
      blobPath(ctx, pts);
      ctx.fillStyle = ds.polyFill;
      ctx.fill();
    });
    // land mask dots
    const sx = chart.scales.x, sy = chart.scales.y;
    ctx.fillStyle = "#c4c4c4";
    chart.options.mapPanel.hatch.forEach(r => {
      const x0 = sx.getPixelForValue(r[0]), x1 = sx.getPixelForValue(r[1]);
      const y0 = sy.getPixelForValue(miller(r[3])), y1 = sy.getPixelForValue(miller(r[2]));
      for (let x = x0; x < x1; x += 3) for (let y = y0; y < y1; y += 3) ctx.fillRect(x, y, 1, 1);
    });
    ctx.restore();
  },
  afterDatasetsDraw(chart) {
    const ctx = chart.ctx, area = chart.chartArea, panel = chart.options.mapPanel;
    const sx = chart.scales.x, sy = chart.scales.y;
    ctx.save();
    ctx.beginPath();
    ctx.rect(area.left, area.top, area.width, area.height);
    ctx.clip();
    ctx.strokeStyle = "#000";
    ctx.fillStyle = "#000";
    ctx.lineWidth = 1;
    chart.data.datasets.forEach((ds, i) => {
      if (!ds.isWind) return;
      chart.getDatasetMeta(i).data.forEach((p, k) => arrow(ctx, p.x, p.y, ds.data[k].u, ds.data[k].v));
    });
    // key box on top of the field
    const bx = sx.getPixelForValue(keyBoxLons[0]), bx2 = sx.getPixelForValue(keyBoxLons[1]);
    const by = sy.getPixelForValue(miller(keyBoxLats[0])), by2 = sy.getPixelForValue(miller(keyBoxLats[1]));
    ctx.fillStyle = "#fff";
    ctx.fillRect(bx, by, bx2 - bx, by2 - by);
    ctx.strokeStyle = "#222";
    ctx.strokeRect(bx + 0.5, by + 0.5, bx2 - bx, by2 - by);
    ctx.strokeStyle = "#000";
    ctx.fillStyle = "#000";
    arrow(ctx, sx.getPixelForValue(keyTail[0]), sy.getPixelForValue(miller(keyTail[1])), keyValue[0], keyValue[1]);
    ctx.font = "20px 'Liberation Sans'";
    ctx.textAlign = "center";
    ctx.textBaseline = "middle";
    ctx.fillText("1", sx.getPixelForValue(107.5), by2 - 13);
    ctx.restore();

    // frame and inward ticks
    ctx.save();
    ctx.lineWidth = 1;
    const l = Math.round(area.left) + 0.5, r = Math.round(area.right) - 0.5;
    const t = Math.round(area.top) + 0.5, b = Math.round(area.bottom) - 0.5;
    const cut = sx.getPixelForValue(panel.cleanTo), cutY = sy.getPixelForValue(miller(20));
    ctx.strokeStyle = "#444";
    ctx.beginPath();
    ctx.moveTo(l, t); ctx.lineTo(l, b); ctx.lineTo(r, b);
    ctx.stroke();
    ctx.beginPath();
    ctx.moveTo(l, t); ctx.lineTo(cut, t);
    ctx.strokeStyle = "#666";
    ctx.stroke();
    ctx.beginPath();
    ctx.moveTo(r, cutY); ctx.lineTo(r, b);
    ctx.strokeStyle = "#777";
    ctx.stroke();
    ctx.setLineDash([1, 2]);
    ctx.strokeStyle = "#bbb";
    ctx.beginPath();
    ctx.moveTo(cut, t); ctx.lineTo(r, t); ctx.lineTo(r, cutY);
    ctx.stroke();
    ctx.setLineDash([]);
    ctx.strokeStyle = "#222";
    ctx.beginPath();
    sx.ticks.forEach(tk => {
      const x = Math.round(sx.getPixelForValue(tk.value)) + 0.5;
      ctx.moveTo(x, b); ctx.lineTo(x, b - 3);
      if (tk.value < panel.cleanTo) { ctx.moveTo(x, t); ctx.lineTo(x, t + 3); }
    });
    sy.ticks.forEach(tk => {
      const y = Math.round(sy.getPixelForValue(tk.value)) + 0.5;
      ctx.moveTo(l, y); ctx.lineTo(l + 3, y);
      if (y > cutY) { ctx.moveTo(r, y); ctx.lineTo(r - 3, y); }
    });
    ctx.stroke();

    ctx.fillStyle = "#000";
    ctx.font = "bold 27px 'Liberation Serif'";
    ctx.textAlign = "center";
    ctx.textBaseline = "middle";
    ctx.fillText(panel.name, panel.tag[0], panel.tag[1]);
    ctx.restore();
  }
};
Chart.register(mapPlugin);

panels.forEach(panel => {
  const datasets = [];
  panel.shade.forEach(s => datasets.push({data: toPoints(s), polyFill: "#808080", showLine: false, pointRadius: 0}));
  panel.holes.forEach(s => datasets.push({data: toPoints(s), polyFill: "#ffffff", showLine: false, pointRadius: 0}));
  coasts.forEach(c => datasets.push({data: toPoints(c), showLine: true, pointRadius: 0, borderColor: "#000", borderWidth: 1, fill: false}));
  datasets.push({data: toPoints(coastAmerica), showLine: true, pointRadius: 0, borderColor: "#bbb", borderWidth: 1, borderDash: [1, 2]});
  const wind = [];
  gridLats.forEach((lat, r) => gridLons.forEach((lon, c) => {
    wind.push({x: lon, y: miller(lat), u: panel.u[r][c], v: panel.v[r][c]});
  }));
  datasets.push({data: wind, isWind: true, showLine: false, pointRadius: 0});

  new Chart(document.getElementById(panel.id), {
    type: "scatter",
    data: {datasets: datasets},
    options: {
      mapPanel: panel,
      responsive: false,
      animation: false,
      events: [],
      layout: {padding: {top: 21, right: 23, left: 0, bottom: 0}},
      plugins: {legend: {display: false}, tooltip: {enabled: false}},
      scales: {
        x: {
          type: "linear", min: 90, max: 260,
          grid: {display: false, drawTicks: false}, border: {display: false},
          afterBuildTicks(s) { s.ticks = lonTicks.map(v => ({value: v})); },
          afterFit(s) { s.height = panel.id === "panelA" || panel.id === "panelC" ? 48 : 28; },
          ticks: {
            autoSkip: false, maxRotation: 0, minRotation: 0, padding: 7, color: "#000",
            font: {family: "'Liberation Sans'", size: 20},
            callback(v, i) { return lonLabels[i]; }
          }
        },
        y: {
          type: "linear", min: miller(-80), max: miller(40),
          grid: {display: false, drawTicks: false}, border: {display: false},
          afterBuildTicks(s) { s.ticks = latTicks.map(v => ({value: miller(v)})); },
          afterFit(s) { s.width = 63; },
          ticks: {
            autoSkip: false, padding: 6, labelOffset: 3, color: "#000",
            font: {family: "'Liberation Sans'", size: 20},
            callback(v, i) { return latLabels[i]; }
          }
        }
      }
    }
  });
});
</script>
</body>
</html>
